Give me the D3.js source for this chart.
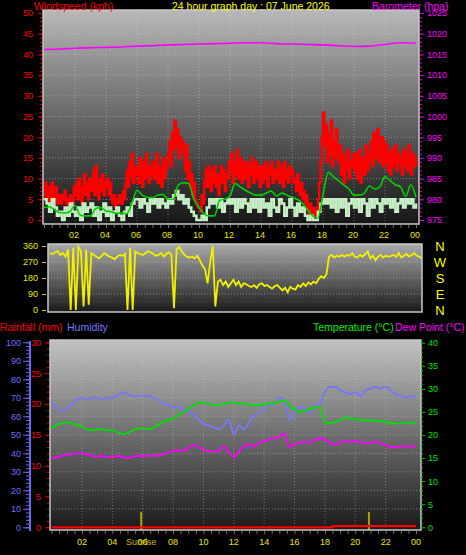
<!DOCTYPE html>
<html><head><meta charset="utf-8">
<script src="https://cdn.jsdelivr.net/npm/d3@7"></script>
<style>body{margin:0;background:#000}svg{display:block}text{font-family:"Liberation Sans",Arial,sans-serif}</style>
</head><body><svg id="c" width="466" height="555"></svg>
<script>
// ---------- DATA ----------
const chartTitle = "24 hour graph day : 07 June 2026";
const hourLabels = ["02","04","06","08","10","12","14","16","18","20","22","00"];
const hourLabelPos = [2,4,6,8,10,12,14,16,18,20,22,24];
// wind gust (kph), 5-minute samples, hour 0..24
const gust = [
6,9,5,8,4,7,9,5,6,8,4,6,
5,4,6,5,7,4,5,3,6,5,4,8,
6,9,5,10,7,4,8,11,6,9,5,10,
7,9,12,6,13,8,5,10,7,11,6,9,
8,10,6,9,5,4,6,3,5,4,6,5,
4,7,5,9,12,8,14,10,16,9,13,11,
12,9,15,11,8,14,10,16,12,9,13,11,
14,10,12,16,9,13,11,8,15,10,12,14,
16,19,13,21,17,24,18,22,15,20,17,19,
16,12,18,10,14,8,11,6,9,5,4,3,
3,2,6,4,9,12,8,13,10,7,12,9,
13,8,11,6,10,13,9,12,7,11,10,14,
12,16,9,14,11,17,10,13,15,9,12,14,
10,14,8,13,11,15,9,12,14,10,13,8,
13,9,12,14,10,8,13,11,14,9,12,10,
11,14,9,12,13,8,14,10,12,9,13,11,
12,9,10,7,11,8,6,9,5,7,4,6,
3,1,4,2,0,3,1,2,5,9,14,20,
26,18,23,14,21,16,24,13,19,15,22,17,
14,18,11,16,9,15,12,17,10,14,13,16,
12,16,10,14,17,9,13,15,11,18,12,14,
16,19,13,21,15,18,22,14,17,20,13,19,
14,18,12,16,11,17,13,15,18,12,16,14,
15,11,17,13,16,12,18,14,11,16,13,15,
13];
// wind speed (kph), 10-minute samples
const windSpeed = [
5,4,2,5,3,1, 2,0,3,1,4,2, 1,3,0,4,2,3, 4,1,3,0,2,4,
1,3,0,2,3,1, 0,2,3,1,4,5, 5,3,5,4,2,5, 4,5,3,5,4,3,
5,4,6,7,5,6, 4,5,3,2,1,0, 0,1,0,3,5,4, 5,3,5,2,4,5,
4,5,2,5,3,5, 4,2,5,3,5,2, 5,3,4,1,5,3, 2,5,4,1,3,5,
3,1,4,2,3,1, 0,1,0,0,2,4, 5,4,5,3,5,2, 5,3,5,1,4,5,
3,5,2,5,4,1, 5,3,5,4,2,5, 4,5,3,5,2,4, 5,3,5,4,5,3,
4];
// average wind (kph), 20-minute samples
const windAvg = [
3,3.2,2.5, 1.8,1.7,2, 3.5,1.2,1, 1,2.8,3, 2.2,2,1.6, 1.7,1.5,4,
7.2,6,5.5, 5.4,6,6.2, 5,5,8.5, 9,8.8,5, 3,1.5,1, 1,4.8,5,
5.8,8.8,8, 7.2,6.5,6, 6,6.5,7, 5.8,6.5,6, 5.5,5,4, 2.5,1,0.5,
6,11.5,10.5, 9.5,8.5,7.5, 6,6,6.5, 8.2,7.5,8, 10.5,9.5,8.5, 8,5.7,8.5,
5.5];
// barometer (hPa), hourly
const pressure = [1016.2,1016.3,1016.5,1016.6,1016.7,1016.8,1017.0,1017.1,1017.3,1017.4,1017.5,1017.6,
1017.7,1017.8,1017.8,1017.6,1017.5,1017.4,1017.3,1017.1,1016.9,1017.0,1017.4,1017.8,1017.7];
// wind direction (deg), 10-minute samples
const windDir = [
320,315,325,330,310,320, 300,340,0,350,0,355, 330,20,340,30,320,310, 300,290,305,320,310,300,
295,285,300,310,305,315, 0,350,0,330,320,315, 310,320,330,325,315,305, 310,320,300,315,325,310,
10,340,355,330,310,300, 295,300,290,305,280,250, 230,150,270,360,20,160, 170,140,160,130,150,170,
140,160,130,150,145,135, 130,140,125,145,150,135, 140,130,120,135,140,125, 110,125,100,130,120,115,
140,130,150,135,155,145, 160,150,175,190,180,200, 300,310,295,305,300,310, 300,310,305,320,300,295,
310,300,315,330,290,305, 280,300,310,295,305,300, 305,310,300,320,295,305, 315,300,310,320,305,300,
290];
const dirLetters = ["N","W","S","E","N"];
// humidity (%), temperature & dew point (°C), 20-minute samples
const humidity = [
67,65,63, 64,67,69, 70,69,70, 70,69,70, 70,71,73, 72,71,71, 71,71,70, 69,67,66,
65,65,64, 63,61,58, 56,55,54, 53,55,58, 50,55,53, 57,60,62, 64,66,67, 70,69,58,
63,65,64, 62,66,67, 73,76,76, 74,73,72, 73,71,74, 75,76,75, 76,74,72, 71,70,71,
70];
const temperature = [
21.5,22.2,22.5, 22.8,22.5,22.2, 21.8,21.2,21, 21.2,21.3,21, 21,20.6,20.2, 20.4,21,21.3,
21.5,21.2,21.5, 22.2,22.8,23.2, 23.5,24.3,25, 25.6,26.4,27, 27,26.8,26.5, 26.5,26.7,27,
27,26.8,26.8, 26.6,26.5,26.5, 26.6,26.8,27, 27.2,27.5,26.5, 25.5,25,25.3, 25.6,26,26,
22.8,22.6,22.8, 23.2,23.8,23.6, 23.4,23.3,23.2, 23.2,23,23, 22.8,22.6,22.5, 22.5,22.7,22.5,
22.6];
const dewPoint = [
15,15.2,15.5, 15.7,15.8,16, 16,15.8,15.5, 15.3,15.5,15.2, 15.3,15.5,15.2, 15,15.3,15.5,
15.4,15.5,15.6, 15.5,15.8,16.2, 16.5,16.7,16.5, 17.2,17.8,17.5, 16.8,16.5,16.4, 16.5,17.6,16.2,
15.2,16.5,17.5, 18,17.5,18.3, 18.8,19,19.4, 19.6,20.4,17.4, 18,18.3,18.5, 18.3,19,19.3,
19,18.2,17.9, 18.5,18.6,18.5, 18.7,18.4,18.2, 18.3,18.5,18.2, 17.8,17.4,17.3, 17.5,17.6,17.5,
17.6];
// rainfall (mm): step changes
const rainHours = [0, 18.5, 24];
const rainTotal = [0, 0.2, 0.2];
// sunrise / sunset (hour of day)
const sunEvents = [5.9, 20.9];

// ---------- DRAW ----------
const svg = d3.select("#c");
const defs = svg.append("defs");
function grad(id, c1, c2){
  const g = defs.append("linearGradient").attr("id",id).attr("x1",0).attr("y1",0).attr("x2",0).attr("y2",1);
  g.append("stop").attr("offset","0%").attr("stop-color",c1);
  g.append("stop").attr("offset","100%").attr("stop-color",c2);
}
grad("gTop","#b8b8b8","#161616");
grad("gMid","#aaaaaa","#1a1a1a");
grad("gBot","#c2c2c2","#1a1a1a");
function clip(id,x,y,w,h){defs.append("clipPath").attr("id",id).append("rect").attr("x",x).attr("y",y).attr("width",w).attr("height",h);}
const fmt = d3.format("d");

const t5 = gust.map((d,i)=>i/12), t10 = windSpeed.map((d,i)=>i/6), t20 = windAvg.map((d,i)=>i/3), t60 = pressure.map((d,i)=>i);

// ===== TOP PANEL =====
const P1 = {x:43,y:10,w:376,h:214};
const x1 = d3.scaleLinear().domain([0,24]).range([44,416]);
const yW = d3.scaleLinear().domain([0,50]).range([220,13]);
const yP = d3.scaleLinear().domain([975,1025]).range([220,13]);
svg.append("rect").attr("x",P1.x).attr("y",P1.y).attr("width",P1.w).attr("height",P1.h).attr("fill","url(#gTop)");
clip("c1",P1.x,P1.y,P1.w,P1.h);
const g1 = svg.append("g").attr("clip-path","url(#c1)");
g1.selectAll(".hg").data(d3.range(5,50,5)).join("line").attr("x1",P1.x).attr("x2",P1.x+P1.w)
  .attr("y1",d=>yW(d)).attr("y2",d=>yW(d)).attr("stroke","#d0d0d0").attr("stroke-opacity",0.45).attr("stroke-dasharray","1,2");
g1.selectAll(".vg").data(d3.range(2,24,2)).join("line").attr("y1",P1.y).attr("y2",P1.y+P1.h)
  .attr("x1",d=>x1(d)).attr("x2",d=>x1(d)).attr("stroke","#d0d0d0").attr("stroke-opacity",0.45).attr("stroke-dasharray","1,2");
g1.append("path").datum(gust).attr("fill","none").attr("stroke","#ff0000").attr("stroke-width",2.4)
  .attr("d",d3.line().x((d,i)=>x1(t5[i])).y(d=>yW(d)).curve(d3.curveStepAfter));
g1.append("path").datum(windSpeed).attr("fill","none").attr("stroke","#c6efc6").attr("stroke-width",2.5)
  .attr("d",d3.line().x((d,i)=>x1(t10[i])).y(d=>yW(d)).curve(d3.curveStepAfter));
g1.append("path").datum(windAvg).attr("fill","none").attr("stroke","#00d000").attr("stroke-width",1.6)
  .attr("d",d3.line().x((d,i)=>x1(t20[i])).y(d=>yW(d)).curve(d3.curveMonotoneX));
g1.append("path").datum(pressure).attr("fill","none").attr("stroke","#ff00ff").attr("stroke-width",1.6)
  .attr("d",d3.line().x((d,i)=>x1(t60[i])).y(d=>yP(d)).curve(d3.curveMonotoneX));
svg.append("rect").attr("x",P1.x).attr("y",P1.y).attr("width",P1.w).attr("height",P1.h).attr("fill","none").attr("stroke","#c8c8c8").attr("stroke-width",1.5);
const axL = svg.append("g").attr("transform","translate(42,0)").call(d3.axisLeft(yW).tickValues(d3.range(0,51,5)).tickSize(4).tickPadding(5));
axL.select(".domain").remove();
axL.selectAll("line").attr("stroke","#e00000");
axL.selectAll("text").attr("fill","#ff0000").attr("font-size",9).attr("font-family","Liberation Sans, Arial");
svg.append("g").attr("transform","translate(42,0)").call(d3.axisLeft(yW).tickValues(d3.range(0,51,1)).tickSize(2).tickFormat(""))
  .call(g=>{g.select(".domain").remove(); g.selectAll("line").attr("stroke","#e00000");});
const axR = svg.append("g").attr("transform","translate(420,0)").call(d3.axisRight(yP).tickValues(d3.range(975,1026,5)).tickFormat(fmt).tickSize(4).tickPadding(3));
axR.select(".domain").remove();
axR.selectAll("line").attr("stroke","#d000d0");
axR.selectAll("text").attr("fill","#ff00ff").attr("font-size",9).attr("font-family","Liberation Sans, Arial");
svg.append("g").attr("transform","translate(420,0)").call(d3.axisRight(yP).tickValues(d3.range(975,1026,1)).tickSize(2).tickFormat(""))
  .call(g=>{g.select(".domain").remove(); g.selectAll("line").attr("stroke","#d000d0");});
svg.append("g").attr("transform",`translate(0,${P1.y+P1.h+1})`).call(d3.axisBottom(x1).tickValues(d3.range(0,24.01,0.5)).tickSize(3).tickFormat(""))
  .call(g=>{g.select(".domain").remove(); g.selectAll("line").attr("stroke","#707070");});
svg.selectAll(".xl1").data(hourLabels).join("text").attr("x",(d,i)=>x1(hourLabelPos[i])-1).attr("y",238)
  .attr("text-anchor","middle").attr("fill","#e8e800").attr("font-size",9).text(d=>d);
svg.append("text").attr("x",34).attr("y",9.5).attr("fill","#ff0000").attr("font-size",10.5).text("Windspeed (kph)");
svg.append("text").attr("x",172).attr("y",9.5).attr("fill","#ffff00").attr("font-size",10.5).text(chartTitle);
svg.append("text").attr("x",372).attr("y",9.5).attr("fill","#ff00ff").attr("font-size",10.5).text("Barometer (hpa)");

// ===== MIDDLE PANEL =====
const P2 = {x:48,y:244,w:374,h:68};
const x2 = d3.scaleLinear().domain([0,24]).range([50,422]);
const yD = d3.scaleLinear().domain([0,360]).range([310,246]);
svg.append("rect").attr("x",P2.x).attr("y",P2.y).attr("width",P2.w).attr("height",P2.h).attr("fill","url(#gMid)");
clip("c2",P2.x,P2.y,P2.w,P2.h);
const g2 = svg.append("g").attr("clip-path","url(#c2)");
g2.selectAll(".hg").data([45,90,135,180,225,270,315]).join("line").attr("x1",P2.x).attr("x2",P2.x+P2.w)
  .attr("y1",d=>yD(d)).attr("y2",d=>yD(d)).attr("stroke","#d0d0d0").attr("stroke-opacity",d=>d%90===0?0.5:0.2).attr("stroke-dasharray","1,2");
g2.append("path").datum(windDir).attr("fill","none").attr("stroke","#f0f000").attr("stroke-width",1.8)
  .attr("d",d3.line().x((d,i)=>x2(t10[i])).y(d=>yD(d)));
svg.append("rect").attr("x",P2.x).attr("y",P2.y).attr("width",P2.w).attr("height",P2.h).attr("fill","none").attr("stroke","#c8c8c8").attr("stroke-width",1.5);
const axD = svg.append("g").attr("transform","translate(46,0)").call(d3.axisLeft(yD).tickValues([0,90,180,270,360]).tickSize(4).tickPadding(4));
axD.select(".domain").remove();
axD.selectAll("line").attr("stroke","#c8c800");
axD.selectAll("text").attr("fill","#e8e800").attr("font-size",9).attr("font-family","Liberation Sans, Arial");
svg.selectAll(".dl").data(dirLetters).join("text").attr("x",440).attr("y",(d,i)=>yD(360-i*90)+5)
  .attr("text-anchor","middle").attr("fill","#ffff00").attr("font-size",13).text(d=>d);

// ===== BOTTOM PANEL =====
const P3 = {x:50,y:340,w:371,h:190};
const x3 = d3.scaleLinear().domain([0,24]).range([51.6,416]);
const yH = d3.scaleLinear().domain([0,100]).range([527.3,342.3]);
const yR = d3.scaleLinear().domain([0,30]).range([527.3,342.3]);
const yT = d3.scaleLinear().domain([0,40]).range([527.3,342.7]);
svg.append("rect").attr("x",P3.x).attr("y",P3.y).attr("width",P3.w).attr("height",P3.h).attr("fill","url(#gBot)");
clip("c3",P3.x,P3.y,P3.w,P3.h);
const g3 = svg.append("g").attr("clip-path","url(#c3)");
g3.selectAll(".hg").data(d3.range(10,100,10)).join("line").attr("x1",P3.x).attr("x2",P3.x+P3.w)
  .attr("y1",d=>yH(d)).attr("y2",d=>yH(d)).attr("stroke","#d0d0d0").attr("stroke-opacity",0.4).attr("stroke-dasharray","1,2");
g3.selectAll(".vg").data(d3.range(2,24,2)).join("line").attr("y1",P3.y).attr("y2",P3.y+P3.h)
  .attr("x1",d=>x3(d)).attr("x2",d=>x3(d)).attr("stroke","#d0d0d0").attr("stroke-opacity",0.4).attr("stroke-dasharray","1,2");
g3.selectAll(".sun").data(sunEvents).join("line").attr("x1",d=>x3(d)).attr("x2",d=>x3(d)).attr("y1",512).attr("y2",530)
  .attr("stroke","#b0a000").attr("stroke-width",2);
g3.append("path").datum(humidity).attr("fill","none").attr("stroke","#7878f0").attr("stroke-width",2)
  .attr("d",d3.line().x((d,i)=>x3(t20[i])).y(d=>yH(d)).curve(d3.curveMonotoneX));
g3.append("path").datum(temperature).attr("fill","none").attr("stroke","#00e000").attr("stroke-width",1.8)
  .attr("d",d3.line().x((d,i)=>x3(t20[i])).y(d=>yT(d)).curve(d3.curveMonotoneX));
g3.append("path").datum(dewPoint).attr("fill","none").attr("stroke","#ff00ff").attr("stroke-width",1.8)
  .attr("d",d3.line().x((d,i)=>x3(t20[i])).y(d=>yT(d)).curve(d3.curveMonotoneX));
g3.append("path").datum(rainTotal).attr("fill","none").attr("stroke","#ff0000").attr("stroke-width",2.2)
  .attr("d",d3.line().x((d,i)=>x3(rainHours[i])).y(d=>yR(d)).curve(d3.curveStepAfter));
svg.append("rect").attr("x",P3.x).attr("y",P3.y).attr("width",P3.w).attr("height",P3.h).attr("fill","none").attr("stroke","#c8c8c8").attr("stroke-width",1.5);
svg.append("line").attr("x1",30).attr("x2",30).attr("y1",341).attr("y2",531).attr("stroke","#6868f0").attr("stroke-width",2);
const axH = svg.append("g").attr("transform","translate(29,0)").call(d3.axisLeft(yH).tickValues(d3.range(0,101,10)).tickSize(6).tickPadding(2));
axH.select(".domain").remove();
axH.selectAll("line").attr("stroke","#6868f0");
axH.selectAll("text").attr("fill","#7070ff").attr("font-size",9).attr("font-family","Liberation Sans, Arial");
svg.append("g").attr("transform","translate(29,0)").call(d3.axisLeft(yH).tickValues(d3.range(0,101,2)).tickSize(3).tickFormat(""))
  .call(g=>{g.select(".domain").remove(); g.selectAll("line").attr("stroke","#6868f0");});
const axRn = svg.append("g").attr("transform","translate(49,0)").call(d3.axisLeft(yR).tickValues(d3.range(0,31,5)).tickSize(4).tickPadding(4));
axRn.select(".domain").remove();
axRn.selectAll("line").attr("stroke","#e00000");
axRn.selectAll("text").attr("fill","#ff0000").attr("font-size",9).attr("font-family","Liberation Sans, Arial");
svg.append("g").attr("transform","translate(49,0)").call(d3.axisLeft(yR).tickValues(d3.range(0,31,1)).tickSize(2).tickFormat(""))
  .call(g=>{g.select(".domain").remove(); g.selectAll("line").attr("stroke","#e00000");});
const axT = svg.append("g").attr("transform","translate(421,0)").call(d3.axisRight(yT).tickValues(d3.range(0,41,5)).tickSize(4).tickPadding(3));
axT.select(".domain").remove();
axT.selectAll("line").attr("stroke","#00c000");
axT.selectAll("text").attr("fill","#00e000").attr("font-size",9).attr("font-family","Liberation Sans, Arial");
svg.append("g").attr("transform","translate(421,0)").call(d3.axisRight(yT).tickValues(d3.range(0,41,1)).tickSize(2).tickFormat(""))
  .call(g=>{g.select(".domain").remove(); g.selectAll("line").attr("stroke","#00c000");});
svg.append("g").attr("transform",`translate(0,${P3.y+P3.h+1})`).call(d3.axisBottom(x3).tickValues(d3.range(0,24.01,0.5)).tickSize(3).tickFormat(""))
  .call(g=>{g.select(".domain").remove(); g.selectAll("line").attr("stroke","#707070");});
svg.append("text").attr("x",x3(sunEvents[0])).attr("y",545).attr("text-anchor","middle").attr("fill","#c8b400").attr("font-size",9).text("Sunrise");
svg.selectAll(".xl3").data(hourLabels).join("text").attr("x",(d,i)=>x3(hourLabelPos[i])).attr("y",545)
  .attr("text-anchor","middle").attr("fill","#e8e800").attr("font-size",9).text(d=>d);
svg.append("text").attr("x",0).attr("y",331).attr("fill","#ff0000").attr("font-size",10.5).text("Rainfall (mm)");
svg.append("text").attr("x",67).attr("y",331).attr("fill","#7878ff").attr("font-size",10.5).text("Humidity");
svg.append("text").attr("x",313).attr("y",331).attr("fill","#00ee00").attr("font-size",10.5).text("Temperature (°C)");
svg.append("text").attr("x",395).attr("y",331).attr("fill","#ff00ff").attr("font-size",10.5).text("Dew Point (°C)");
</script></body></html>
